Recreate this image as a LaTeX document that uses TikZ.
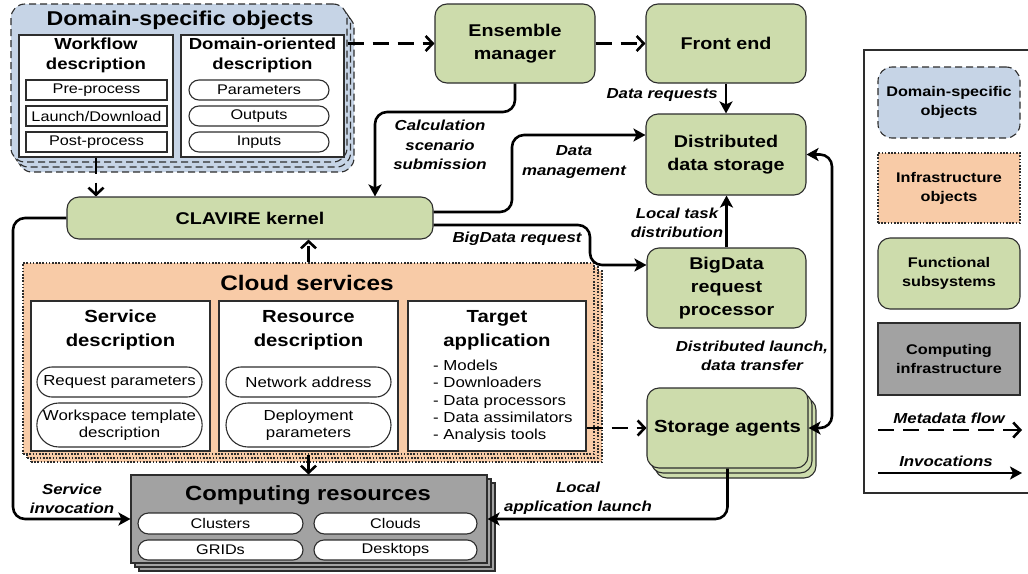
\documentclass[tikz,border=0pt]{standalone}
\usepackage{fontspec}
\setmainfont{Liberation Sans}[FakeStretch=1.16]
\usetikzlibrary{arrows.meta,shapes.misc,calc}

\definecolor{dsoblue}{RGB}{198,212,230}
\definecolor{fgreen}{RGB}{205,220,172}
\definecolor{iorange}{RGB}{248,203,167}
\definecolor{cgray}{RGB}{162,162,162}
\definecolor{bord}{RGB}{45,45,45}

\tikzset{
 box/.style={draw=bord, line width=1.1pt, inner sep=0pt, align=center},
 green/.style={box, fill=fgreen, rounded corners=12pt, font=\bfseries\fontsize{17}{23}\selectfont},
 dsob/.style={box, fill=dsoblue, rounded corners=14pt, dash pattern=on 7pt off 4pt},
 infr/.style={box, fill=iorange, dash pattern=on 1.6pt off 1.6pt},
 comp/.style={box, fill=cgray},
 wbox/.style={box, fill=white},
 item/.style={box, fill=white, font=\fontsize{14}{16}\selectfont},
 pill/.style={item, rounded rectangle},
 ttl/.style={font=\bfseries\fontsize{20}{22}\selectfont, inner sep=0pt},
 sub/.style={font=\bfseries\fontsize{17.5}{24}\selectfont, align=center, inner sep=0pt},
 lgt/.style={font=\bfseries\fontsize{14}{19}\selectfont, align=center},
 lbl/.style={font=\bfseries\itshape\fontsize{14.5}{19.5}\selectfont, align=center, inner sep=0pt},
 inv/.style={line width=2.6pt, -{Stealth[length=12pt,width=13pt,inset=3pt]}, rounded corners=12pt},
 meta/.style={line width=2.6pt, dash pattern=on 16pt off 9pt, -{Straight Barb[length=7pt,width=15pt]}},
}

\begin{document}
\begin{tikzpicture}[x=1pt,y=-1pt]
\useasboundingbox (0,0) rectangle (1028,573);

% ---------- Domain-specific objects ----------
\node[dsob, minimum width=336pt, minimum height=158pt] (dsoS2) at (186,93) {};
\node[dsob, minimum width=336pt, minimum height=158pt] (dsoS1) at (182.5,88) {};
\node[dsob, minimum width=336pt, minimum height=158pt] (dso) at (179,83) {};
\node[ttl] (dsot) at (180,20) {Domain-specific objects};
\node[wbox, minimum width=154pt, minimum height=122pt] (wf) at (96,96) {};
\node[sub, font=\bfseries\fontsize{16}{20}\selectfont] (wft) at (96,55) {Workflow\\description};
\node[item, minimum width=141pt, minimum height=20pt] (pre) at (96.5,90) {Pre-process};
\node[item, minimum width=141pt, minimum height=20pt] (launch) at (96.5,116) {Launch/Download};
\node[item, minimum width=141pt, minimum height=20pt] (post) at (96.5,142) {Post-process};
\node[wbox, minimum width=163pt, minimum height=122pt] (do) at (262.5,96) {};
\node[sub, font=\bfseries\fontsize{16}{20}\selectfont] (dot) at (262.5,55) {Domain-oriented\\description};
\node[pill, minimum width=140pt, minimum height=20pt] (par) at (259,90) {Parameters};
\node[pill, minimum width=140pt, minimum height=20pt] (outp) at (259,116) {Outputs};
\node[pill, minimum width=140pt, minimum height=20pt] (inp) at (259,142) {Inputs};

% ---------- Functional subsystems ----------
\node[green, minimum width=160pt, minimum height=79pt] (em) at (515,43.5) {Ensemble\\manager};
\node[green, minimum width=160pt, minimum height=79pt] (fe) at (726,43.5) {Front end};
\node[green, minimum width=160pt, minimum height=81pt] (dds) at (726,154.5) {Distributed\\data storage};
\node[green, minimum width=366pt, minimum height=42pt] (kernel) at (250,218) {CLAVIRE kernel};
\node[green, minimum width=159pt, minimum height=80pt] (bdp) at (726.5,288) {BigData\\request\\processor};
\node[green, minimum width=161pt, minimum height=80pt] (saS2) at (735.5,438) {};
\node[green, minimum width=161pt, minimum height=80pt] (saS1) at (731.5,433) {};
\node[green, minimum width=161pt, minimum height=80pt, font=\bfseries\fontsize{17.5}{22}\selectfont] (sa) at (727.5,428) {Storage agents};

% ---------- Cloud services ----------
\node[infr, minimum width=571pt, minimum height=191pt] (cloudS2) at (316.5,366.5) {};
\node[infr, minimum width=571pt, minimum height=191pt] (cloudS1) at (312.5,362.5) {};
\node[infr, minimum width=571pt, minimum height=191pt] (cloud) at (308.5,358.5) {};
\node[ttl, font=\bfseries\fontsize{21}{24}\selectfont] (cloudt) at (307,283) {Cloud services};
\node[wbox, minimum width=179pt, minimum height=150pt] (sd) at (120.5,376) {};
\node[sub] (sdt) at (120.5,330) {Service\\description};
\node[pill, minimum width=165pt, minimum height=30pt, font=\fontsize{14.5}{17}\selectfont] (rp) at (119.5,382) {Request parameters};
\node[pill, minimum width=165pt, minimum height=44pt, align=center, font=\fontsize{14.5}{17}\selectfont] (wt) at (119.5,425) {Workspace template\\description};
\node[wbox, minimum width=179pt, minimum height=150pt] (rd) at (308.5,376) {};
\node[sub] (rdt) at (308.5,330) {Resource\\description};
\node[pill, minimum width=165pt, minimum height=30pt, font=\fontsize{14.5}{17}\selectfont] (na) at (308.5,382) {Network address};
\node[pill, minimum width=165pt, minimum height=44pt, align=center, font=\fontsize{14.5}{17}\selectfont] (dp) at (308.5,425) {Deployment\\parameters};
\node[wbox, minimum width=178pt, minimum height=150pt] (ta) at (497,376) {};
\node[sub] (tat) at (497,330) {Target\\application};
\node[anchor=north west, align=left, inner sep=0pt, font=\fontsize{14.5}{17.2}\selectfont] (tal) at (433,360)
  {- Models\\- Downloaders\\- Data processors\\- Data assimilators\\- Analysis tools};

% ---------- Computing resources ----------
\node[comp, minimum width=356pt, minimum height=88pt] (crS2) at (317,527) {};
\node[comp, minimum width=356pt, minimum height=88pt] (crS1) at (313,523) {};
\node[comp, minimum width=356pt, minimum height=88pt] (cr) at (309,519) {};
\node[ttl, font=\bfseries\fontsize{20.5}{24}\selectfont] (crt) at (308,495) {Computing resources};
\node[pill, minimum width=165pt, minimum height=21pt] (clu) at (220.5,523.5) {Clusters};
\node[pill, minimum width=163pt, minimum height=21pt] (clo) at (395.5,523.5) {Clouds};
\node[pill, minimum width=165pt, minimum height=20pt] (gri) at (220.5,550) {GRIDs};
\node[pill, minimum width=163pt, minimum height=20pt] (des) at (395.5,550) {Desktops};

% ---------- bend points ----------
\coordinate (cs) at (375,112);
\coordinate (dmx) at (512,0);
\coordinate (bdx) at (590,0);
\coordinate (rx) at (832,0);
\coordinate (lx) at (13,0);

% ---------- connectors ----------
\draw[meta] (em.west -| dso.east) -- (em.west);
\draw[meta] (em.east) -- (fe.west);
\draw[meta] (wf.south) -- (wf.south |- kernel.north);
\draw[meta] (cloud.north) -- (cloud.north |- kernel.south);
\draw[meta] (cloud.south) -- (cloud.south |- cr.north);
\draw[meta] (ta.east |- sa.west) -- (sa.west);

\draw[inv] (em.south) |- (cs) -- (cs |- kernel.north);
\draw[inv] (fe.south) -- (dds.north);
\draw[inv] ([yshift=6pt]kernel.east) -| ([yshift=19.5pt]dds.west -| dmx) -- ([yshift=19.5pt]dds.west);
\draw[inv] ([yshift=-7pt]kernel.east) -| ([yshift=23pt]bdp.west -| bdx) -- ([yshift=23pt]bdp.west);
\draw[inv] (bdp.north) -- (bdp.north |- dds.south);
\draw[inv, {Stealth[length=12pt,width=13pt,inset=3pt]}-{Stealth[length=12pt,width=13pt,inset=3pt]}] (dds.east) -| (rx |- sa.east) -- (sa.east);
\draw[inv] (sa.south) |- (cr.east);
\draw[inv] (kernel.west) -| (lx |- cr.west) -- (cr.west);

% ---------- labels ----------
\node[lbl, anchor=east] (l1) at (718,95) {Data requests};
\node[lbl] (l2) at (440,145) {Calculation\\scenario\\submission};
\node[lbl] (l3) at (574,162) {Data\\management};
\node[lbl] (l4) at (517,239) {BigData request};
\node[lbl] (l5) at (677,223) {Local task\\distribution};
\node[lbl] (l6) at (752,356) {Distributed launch,\\data transfer};
\node[lbl] (l7) at (72,499) {Service\\invocation};
\node[lbl] (l8) at (578,498) {Local\\application launch};

% ---------- legend ----------
\node[draw=bord, line width=1.2pt, minimum width=180pt, minimum height=443pt, inner sep=0pt] (leg) at (954,271.5) {};
\node[dsob, lgt, minimum width=142pt, minimum height=71pt] (ld) at (949,102.5) {Domain-specific\\objects};
\node[infr, lgt, minimum width=142pt, minimum height=70pt] (li) at (949,188) {Infrastructure\\objects};
\node[box, fill=fgreen, rounded corners=12pt, lgt, minimum width=142pt, minimum height=71pt] (lf) at (949,273.5) {Functional\\subsystems};
\node[comp, lgt, minimum width=142pt, minimum height=72pt] (lc) at (949,359) {Computing\\infrastructure};
\coordinate (m1) at (878,430);
\coordinate (m2) at (1022,430);
\coordinate (i1) at (878,473);
\coordinate (i2) at (1022,473);
\draw[meta] (m1) -- (m2);
\draw[inv] (i1) -- (i2);
\node[lbl] (lm) at (949,418) {Metadata flow};
\node[lbl] (lin) at (946,461) {Invocations};
\end{tikzpicture}
\end{document}
